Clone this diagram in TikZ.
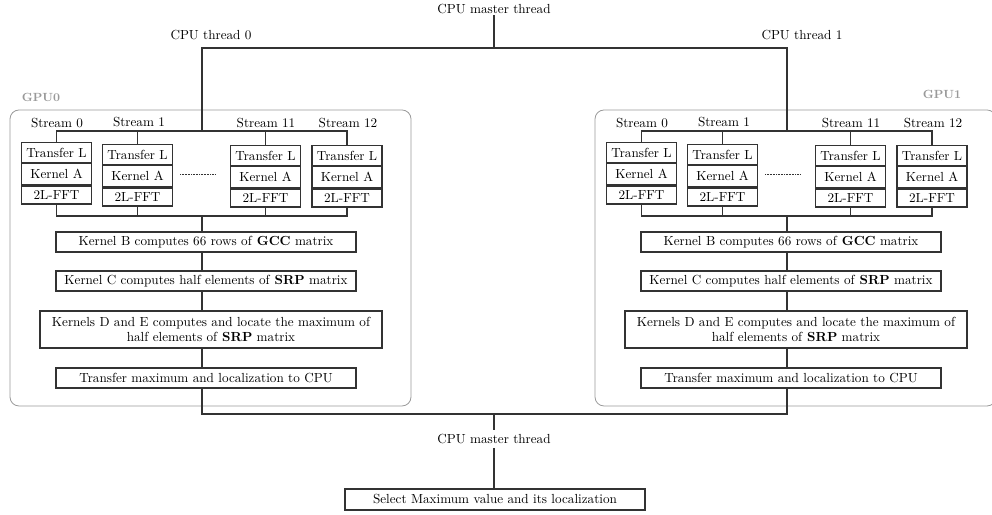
\documentclass[tikz,border=0pt]{standalone}
\usepackage{tikz}

% one drawing unit
\def\px{0.76pt}

\tikzset{
  x=0.76pt, y=-0.76pt,
  wire/.style={draw=black!80, line width=0.9pt},
  box/.style={draw=black!80, line width=0.9pt, fill=white, inner sep=0pt,
    align=center, font=\fontsize{10}{11.6}\selectfont},
  cell/.style={box, minimum width=70*\px, anchor=north},
  wide/.style={box, minimum width=300*\px, minimum height=20*\px},
  gpuframe/.style={draw=black!40, line width=0.6pt, rounded corners=9*\px},
  gpulabel/.style={text=black!40, font=\fontsize{9}{11}\selectfont\bfseries, inner sep=0pt},
  txt/.style={font=\fontsize{10}{12}\selectfont, inner sep=0pt},
  dots/.style={draw=black!80, line width=0.6pt, dash pattern=on 0.4pt off 0.8pt},
}

% a stream: three stacked cells
\newcommand\kstack[3]{%
  \node[cell, minimum height=20*\px] (#1a) at (#2,#3) {Transfer L};
  \node[cell, minimum height=21*\px] (#1b) at (#1a.south) {Kernel A};
  \node[cell, minimum height=18*\px] (#1c) at (#1b.south) {2L-FFT};
}

% one GPU: streams, kernels and their wiring
\newcommand\gpublock[2]{%
\begin{scope}[shift={(#2,0)}]
  \draw[gpuframe] (10,110) rectangle (411,406);
  \node[txt] (#1l0)  at (57,123)  {Stream 0};
  \node[txt] (#1l1)  at (139,122) {Stream 1};
  \node[txt] (#1l11) at (266,123) {Stream 11};
  \node[txt] (#1l12) at (348,123) {Stream 12};
  \kstack{#1s0}{56.5}{142}
  \kstack{#1s1}{137.5}{144}
  \kstack{#1s11}{265.5}{145}
  \kstack{#1s12}{347}{145}
  \coordinate (#1d1) at (180,174);
  \coordinate (#1d2) at (215,174);
  \coordinate (#1top) at (202,131);
  \coordinate (#1bot) at (202,216);
  \coordinate (#1ax)  at (202,300);
  \node[wide] (#1kb) at (206,242) {Kernel B computes 66 rows of \textbf{GCC} matrix};
  \node[wide] (#1kc) at (206,281) {Kernel C computes half elements of \textbf{SRP} matrix};
  \node[box, minimum width=342*\px, minimum height=37*\px] (#1kd) at (211,329.5)
    {Kernels D and E computes and locate the maximum of\\ half elements of \textbf{SRP} matrix};
  \node[wide] (#1kt) at (206,378) {Transfer maximum and localization to CPU};
\end{scope}
  \draw[dots] (#1d1) -- (#1d2);
  \draw[wire] (#1s0a.north) |- (#1top) -| (#1s12a.north);
  \draw[wire] (#1s1a.north) -- (#1s1a.north |- #1top);
  \draw[wire] (#1s11a.north) -- (#1s11a.north |- #1top);
  \draw[wire] (#1s0c.south) |- (#1bot) -| (#1s12c.south);
  \draw[wire] (#1s1c.south) -- (#1s1c.south |- #1bot);
  \draw[wire] (#1s11c.south) -- (#1s11c.south |- #1bot);
  \draw[wire] (#1bot) -- (#1kb.north -| #1ax);
  \draw[wire] (#1kb.south -| #1ax) -- (#1kc.north -| #1ax);
  \draw[wire] (#1kc.south -| #1ax) -- (#1kd.north -| #1ax);
  \draw[wire] (#1kd.south -| #1ax) -- (#1kt.north -| #1ax);
}

\begin{document}
\begin{tikzpicture}
  \clip (0,0) rectangle (992,515);
  \useasboundingbox (0,0) rectangle (992,515);

  % CPU threads
  \node[txt] (m0) at (494,9) {CPU master thread};
  \node[txt] (t0) at (211,35) {CPU thread 0};
  \node[txt] (t1) at (802,35) {CPU thread 1};
  \coordinate (tb) at (494,48);

  \node[gpulabel] (gl0) at (41,97) {GPU0};
  \node[gpulabel] (gl1) at (942,94) {GPU1};

  \gpublock{g0}{0}
  \gpublock{g1}{585}

  \draw[wire] (m0.south) ++(0,-1pt) -- (tb);
  \draw[wire] (g0top) |- (tb) -| (g1top);

  % results gathered by the master thread
  \coordinate (bb) at (494,414);
  \node[txt, inner sep=3pt] (m1) at (494,439) {CPU master thread};
  \node[wide, minimum height=21*\px] (sel) at (495,499.5) {Select Maximum value and its localization};
  \draw[wire] (g0kt.south -| g0ax) |- (bb) -| (g1kt.south -| g1ax);
  \draw[wire] (bb) -- (m1.north);
  \draw[wire] (m1.south) -- (m1.south |- sel.north);
\end{tikzpicture}
\end{document}
